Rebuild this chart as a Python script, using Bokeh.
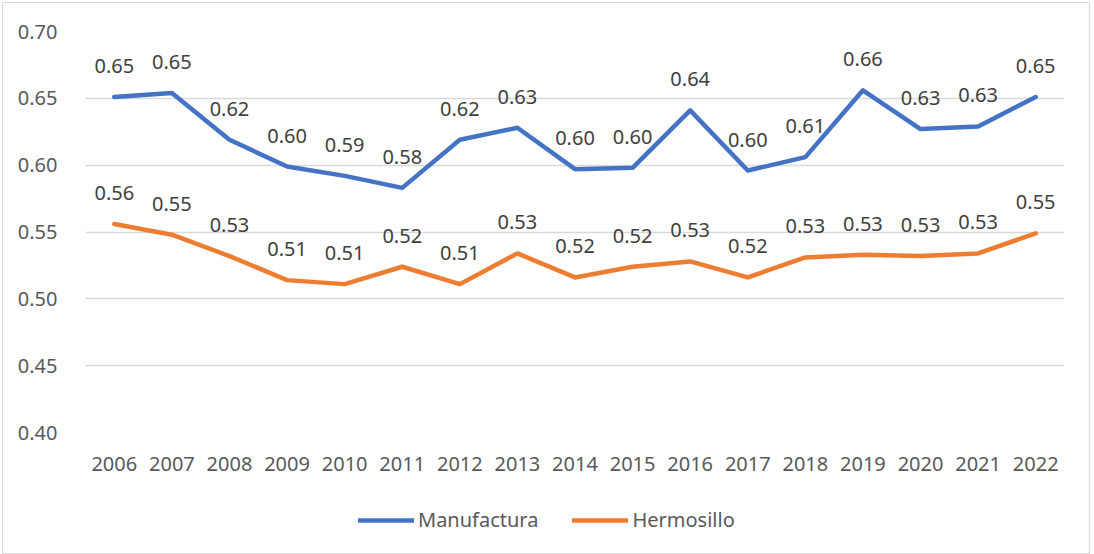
from bokeh.plotting import figure
from bokeh.layouts import column
from bokeh.models import (ColumnDataSource, FactorRange, Range1d, LabelSet, Legend,
                          LegendItem, NumeralTickFormatter, FixedTicker)
from bokeh.core.properties import value
from bokeh.embed import file_html
from bokeh.resources import INLINE

years = [str(y) for y in range(2006, 2023)]
manufactura = [0.651, 0.654, 0.619, 0.599, 0.592, 0.583, 0.619, 0.628, 0.597, 0.598,
               0.641, 0.596, 0.606, 0.656, 0.627, 0.629, 0.651]
hermosillo = [0.556, 0.548, 0.532, 0.514, 0.511, 0.524, 0.511, 0.534, 0.516, 0.524,
              0.528, 0.516, 0.531, 0.533, 0.532, 0.534, 0.549]
y_ticks = [0.40, 0.45, 0.50, 0.55, 0.60, 0.65, 0.70]
series_names = ["Manufactura", "Hermosillo"]
colors = ["#4472C4", "#ED7D31"]

FONT = "Noto Sans"
GRAY = "#595959"

p = figure(width=1086, height=490, x_range=FactorRange(*years, range_padding=0),
           y_range=Range1d(0.40, 0.70), output_backend="svg", toolbar_location=None,
           min_border_left=82, min_border_right=25, min_border_top=28, min_border_bottom=61)
p.outline_line_color = None
p.background_fill_color = "white"
p.border_fill_color = "white"

sources = []
for name, vals, col in zip(series_names, [manufactura, hermosillo], colors):
    src = ColumnDataSource(dict(x=years, y=vals, lbl=[f"{v:.2f}" for v in vals]))
    sources.append(src)
    p.line("x", "y", source=src, line_color=col, line_width=4.5,
           line_join="round", line_cap="round")
    p.add_layout(LabelSet(x="x", y="y", text="lbl", source=src, y_offset=31,
                          text_align="center", text_baseline="middle",
                          text_font=value(FONT), text_font_size="20px", text_color="#404040"))

p.yaxis.ticker = FixedTicker(ticks=y_ticks)
p.yaxis.formatter = NumeralTickFormatter(format="0.00")
for ax in [p.xaxis[0], p.yaxis[0]]:
    ax.axis_line_color = None
    ax.major_tick_line_color = None
    ax.minor_tick_line_color = None
    ax.major_label_text_font = FONT
    ax.major_label_text_font_size = "20px"
    ax.major_label_text_color = GRAY
p.yaxis.major_label_standoff = 22
p.xaxis.major_label_standoff = 18
p.xgrid.grid_line_color = None
p.ygrid.grid_line_color = "#d9d9d9"
p.ygrid.grid_line_width = 1.5

# legend strip (series drawn outside its visible range, used only for legend glyphs)
p2 = figure(width=1086, height=60, output_backend="svg", toolbar_location=None,
            x_range=FactorRange(*years, range_padding=0), y_range=Range1d(0.0, 0.1),
            x_axis_type=None, y_axis_type=None, min_border=0)
p2.outline_line_color = None
p2.grid.visible = False
p2.background_fill_color = "white"
p2.border_fill_color = "white"
leg_renderers = [p2.line("x", "y", source=s, line_color=c, line_width=4.5, line_cap="round")
                 for s, c in zip(sources, colors)]
legend = Legend(items=[LegendItem(label=n, renderers=[r]) for n, r in zip(series_names, leg_renderers)],
                orientation="horizontal", location=(273, 20),
                label_text_font=FONT, label_text_font_size="20px", label_text_color=GRAY,
                glyph_width=56, glyph_height=20, spacing=34, label_standoff=4,
                border_line_color=None, background_fill_alpha=0, margin=0, padding=4)
p2.add_layout(legend, "center")

layout = column(p, p2, spacing=0)
layout.styles = {"border": "1px solid #d9d9d9", "margin-left": "2px", "margin-top": "2px"}

open("out.html", "w").write(file_html(layout, INLINE))
